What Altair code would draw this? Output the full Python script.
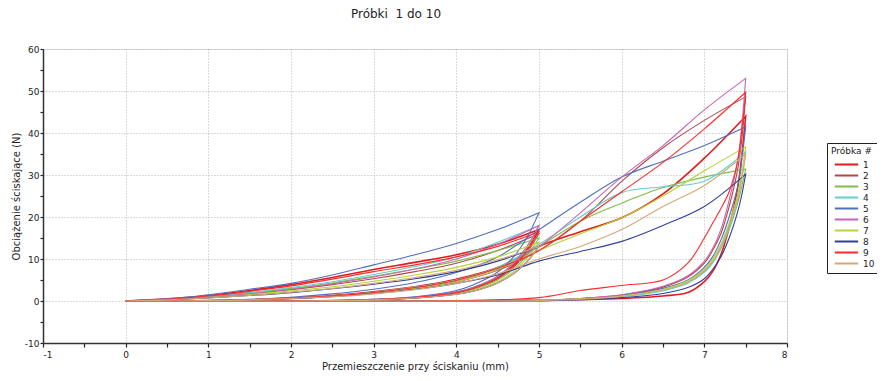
import altair as alt
import pandas as pd

SAMPLES = ["1", "2", "3", "4", "5", "6", "7", "8", "9", "10"]
COLORS = ["#e41a1c", "#b0474a", "#7cbf48", "#66cccc", "#4f6fbf",
          "#c865b5", "#b5d531", "#2e3f9e", "#ff2a2a", "#d6a878"]

# displacement positions (mm) of each test phase
X_LOAD1 = [0, 0.5, 1, 1.5, 2, 2.5, 3, 3.5, 4, 4.5, 5]
X_UNLOAD1 = [5, 4.95, 4.9, 4.8, 4.7, 4.5, 4.2, 4.0, 3.5, 3.0, 2.5, 2.0, 1.0, 0]
X_LOAD2 = [0, 0.5, 1, 1.5, 2, 2.5, 3, 3.5, 4, 4.5, 5, 5.5, 6, 6.5, 7, 7.5]
X_UNLOAD2 = [7.5, 7.45, 7.4, 7.3, 7.2, 7.1, 7.0, 6.8, 6.5, 6.0, 5.5, 5.0, 4.0, 3.0, 2.0, 0]

# force (N), one list per sample, in the order of SAMPLES
LOAD1 = [
    [0, 0.5, 1.3, 2.5, 3.9, 5.6, 7.5, 9.2, 11.0, 13.5, 17.0],
    [0, 0.3, 0.9, 1.7, 2.7, 3.9, 5.3, 7.0, 9.0, 12.0, 16.0],
    [0, 0.4, 1.0, 1.9, 3.0, 4.3, 5.9, 7.6, 9.5, 12.0, 15.0],
    [0, 0.4, 1.1, 2.0, 3.2, 4.6, 6.3, 8.2, 10.5, 14.0, 18.0],
    [0, 0.5, 1.5, 2.8, 4.2, 6.2, 8.6, 11.0, 13.7, 17.0, 21.0],
    [0, 0.3, 0.9, 1.7, 2.8, 4.1, 5.7, 7.6, 10.0, 13.5, 18.0],
    [0, 0.3, 0.8, 1.5, 2.4, 3.4, 4.7, 6.2, 8.0, 10.5, 14.0],
    [0, 0.3, 0.7, 1.3, 2.0, 2.9, 4.0, 5.3, 7.0, 9.5, 13.0],
    [0, 0.4, 1.2, 2.3, 3.6, 5.2, 7.0, 8.6, 10.5, 13.0, 16.5],
    [0, 0.3, 0.7, 1.3, 2.1, 3.0, 4.2, 5.6, 7.3, 9.8, 13.0],
]
UNLOAD1 = [
    [17.0, 15.3, 13.6, 10.9, 8.7, 5.6, 3.1, 2.0, 0.8, 0.3, 0.1, 0, 0, 0],
    [16.0, 14.4, 12.8, 10.2, 8.2, 5.3, 2.9, 1.9, 0.8, 0.3, 0.1, 0, 0, 0],
    [15.0, 13.5, 12.0, 9.6, 7.7, 5.0, 2.7, 1.8, 0.7, 0.3, 0.1, 0, 0, 0],
    [18.0, 16.2, 14.4, 11.5, 9.2, 5.9, 3.2, 2.2, 0.9, 0.4, 0.1, 0, 0, 0],
    [21.0, 18.9, 16.8, 13.4, 10.7, 6.9, 3.8, 2.5, 1.0, 0.4, 0.1, 0, 0, 0],
    [18.0, 16.2, 14.4, 11.5, 9.2, 5.9, 3.2, 2.2, 0.9, 0.4, 0.1, 0, 0, 0],
    [14.0, 12.6, 11.2, 9.0, 7.1, 4.6, 2.5, 1.7, 0.7, 0.3, 0.1, 0, 0, 0],
    [13.0, 11.7, 10.4, 8.3, 6.6, 4.3, 2.3, 1.6, 0.7, 0.3, 0.1, 0, 0, 0],
    [16.5, 14.9, 13.2, 10.6, 8.4, 5.4, 3.0, 2.0, 0.8, 0.3, 0.1, 0, 0, 0],
    [13.0, 11.7, 10.4, 8.3, 6.6, 4.3, 2.3, 1.6, 0.7, 0.3, 0.1, 0, 0, 0],
]
LOAD2 = [
    [0, 0, 0.1, 0.3, 0.7, 1.3, 2.2, 3.4, 5.2, 8.0, 13.0, 16.5, 19.8, 25.5, 34.0, 44.0],
    [0, 0, 0.1, 0.3, 0.6, 1.1, 1.9, 3.0, 4.6, 7.3, 12.0, 19.0, 28.5, 36.5, 43.0, 48.6],
    [0, 0, 0.1, 0.3, 0.7, 1.2, 2.1, 3.3, 5.0, 8.0, 13.0, 19.0, 23.3, 27.0, 29.5, 31.4],
    [0, 0, 0.1, 0.3, 0.7, 1.2, 2.1, 3.3, 5.0, 8.0, 13.5, 20.0, 25.8, 27.2, 28.5, 35.5],
    [0, 0, 0.1, 0.4, 0.9, 1.7, 2.8, 4.4, 6.8, 10.5, 17.0, 23.5, 29.5, 33.3, 37.0, 41.5],
    [0, 0, 0.1, 0.2, 0.5, 1.0, 1.8, 2.9, 4.5, 7.5, 13.0, 21.0, 29.5, 37.0, 45.5, 53.0],
    [0, 0, 0.1, 0.3, 0.6, 1.1, 1.9, 3.0, 4.6, 7.5, 12.0, 16.0, 19.8, 25.0, 31.0, 36.7],
    [0, 0, 0.1, 0.3, 0.6, 1.1, 1.8, 2.8, 4.2, 6.2, 9.5, 11.8, 14.2, 18.0, 22.5, 30.2],
    [0, 0, 0.1, 0.3, 0.7, 1.2, 2.0, 3.2, 4.9, 7.8, 12.0, 19.0, 26.0, 33.0, 41.0, 49.7],
    [0, 0, 0.1, 0.3, 0.6, 1.0, 1.7, 2.7, 4.2, 6.5, 10.0, 13.0, 17.0, 22.5, 27.5, 35.0],
]
UNLOAD2 = [
    [44.0, 34.0, 26.5, 17.5, 11.0, 7.0, 4.6, 2.0, 1.2, 0.6, 0.3, 0.1, 0, 0, 0, 0],
    [48.6, 38.0, 31.0, 22.5, 16.0, 12.0, 9.0, 5.7, 3.3, 1.4, 0.6, 0.2, 0, 0, 0, 0],
    [31.4, 27.0, 23.0, 17.0, 12.5, 9.3, 7.0, 4.4, 2.6, 1.2, 0.5, 0.2, 0, 0, 0, 0],
    [35.5, 29.0, 24.0, 17.5, 12.5, 9.0, 6.8, 4.2, 2.4, 1.0, 0.4, 0.1, 0, 0, 0, 0],
    [41.5, 33.0, 27.0, 20.0, 14.5, 10.5, 8.0, 5.0, 3.0, 1.3, 0.5, 0.2, 0, 0, 0, 0],
    [53.0, 41.0, 33.0, 24.0, 17.0, 12.5, 9.5, 6.0, 3.5, 1.5, 0.6, 0.2, 0, 0, 0, 0],
    [36.7, 30.0, 25.0, 18.5, 13.5, 10.0, 7.5, 4.8, 2.8, 1.2, 0.5, 0.2, 0, 0, 0, 0],
    [30.2, 25.0, 21.0, 15.0, 10.5, 7.5, 5.3, 3.2, 1.8, 0.8, 0.3, 0.1, 0, 0, 0, 0],
    [49.7, 40.0, 33.0, 26.0, 22.0, 18.5, 15.0, 9.0, 5.0, 3.7, 2.5, 0.8, 0.1, 0, 0, 0],
    [35.0, 28.5, 24.0, 18.0, 13.0, 9.5, 7.2, 4.5, 2.6, 1.1, 0.4, 0.1, 0, 0, 0, 0],
]

X_TICKS = [-1, -0.5, 0, 0.5, 1, 1.5, 2, 2.5, 3, 3.5, 4, 4.5, 5, 5.5, 6, 6.5, 7, 7.5, 8]
Y_TICKS = [-10, -5, 0, 5, 10, 15, 20, 25, 30, 35, 40, 45, 50, 55, 60]

rows = []
for i, s in enumerate(SAMPLES):
    seq = (list(zip(X_LOAD1, LOAD1[i])) + list(zip(X_UNLOAD1, UNLOAD1[i]))
           + list(zip(X_LOAD2, LOAD2[i])) + list(zip(X_UNLOAD2, UNLOAD2[i])))
    for k, (x, y) in enumerate(seq):
        rows.append({"sample": s, "x": x, "y": y, "k": k,
                     "sw": 1.6 if s == "1" else 1.1})
df = pd.DataFrame(rows)

FONT = "DejaVu Sans"

x_axis = alt.Axis(
    values=X_TICKS,
    labelExpr="datum.value % 1 == 0 ? toString(datum.value) : ''",
    title="Przemieszczenie przy ściskaniu (mm)",
    titleFont=FONT, titleFontSize=10, titleFontWeight="normal", titleColor="#222",
    labelFont=FONT, labelFontSize=9, labelColor="#222", labelPadding=3,
    titlePadding=2,
    tickSize=4, tickColor="#222", tickWidth=1.2,
    domainColor="#333", domainWidth=1.5,
    grid=True, gridColor="#b5b5b5", gridDash=[1, 2], gridWidth=1,
    gridOpacity={"condition": {"test": "datum.value % 1 != 0", "value": 0}, "value": 1},
)
y_axis = alt.Axis(
    values=Y_TICKS,
    labelExpr="datum.value % 10 == 0 ? toString(datum.value) : ''",
    title="Obciążenie ściskające (N)",
    titleFont=FONT, titleFontSize=10, titleFontWeight="normal", titleColor="#222",
    labelFont=FONT, labelFontSize=9, labelColor="#222", labelPadding=1,
    titlePadding=3,
    tickSize=3, tickColor="#222", tickWidth=1.2,
    domainColor="#333", domainWidth=1.5,
    grid=True, gridColor="#b5b5b5", gridDash=[1, 2], gridWidth=1,
    gridOpacity={"condition": {"test": "datum.value % 10 != 0", "value": 0}, "value": 1},
)

chart = alt.Chart(df).mark_line(clip=True, interpolate="catmull-rom").encode(
    x=alt.X("x:Q", scale=alt.Scale(domain=[-1, 8], nice=False, zero=False), axis=x_axis),
    y=alt.Y("y:Q", scale=alt.Scale(domain=[-10, 60], nice=False), axis=y_axis),
    color=alt.Color(
        "sample:N", sort=SAMPLES,
        scale=alt.Scale(domain=SAMPLES, range=COLORS),
        legend=alt.Legend(
            title="Próbka #", orient="none", legendX=784, legendY=94,
            titleFont=FONT, titleFontSize=9, titleFontWeight="normal", titleColor="#222",
            labelFont=FONT, labelFontSize=9, labelColor="#222",
            symbolType="M-2.6,0H2.6", symbolSize=81, symbolStrokeWidth=2,
            symbolOffset=10, labelOffset=11,
            rowPadding=0, padding=4, strokeColor="#222", fillColor="white",
            titlePadding=3,
        ),
    ),
    order=alt.Order("k:Q"),
    strokeWidth=alt.StrokeWidth("sw:Q", scale=None, legend=None),
).properties(
    width=744, height=294,
    title=alt.TitleParams("Próbki\u00a0 1 do 10", font=FONT, fontSize=12,
                          fontWeight="normal", color="#222", offset=24, dx=-19),
    padding={"left": 35, "top": 41, "right": 90, "bottom": 30},
    autosize="none",
).configure_view(stroke="#444", strokeWidth=1.5).configure(background="white")

chart.save("out.html", embed_options={"renderer": "svg", "actions": False})
